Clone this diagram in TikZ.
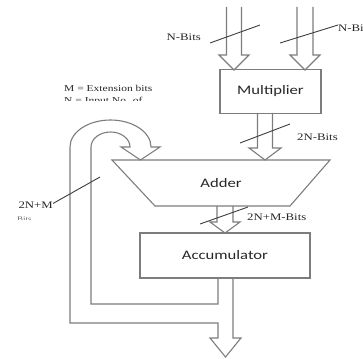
\documentclass[tikz,border=0pt]{standalone}
\usepackage{fontspec}
\setmainfont{Liberation Serif}
\newfontfamily\calfont{Carlito}
\definecolor{outl}{RGB}{125,125,125}
\definecolor{slsh}{RGB}{60,60,60}
\newcommand{\wide}[1]{\scalebox{1.28}[1]{#1}}
\newcommand{\blockdown}[6]{% x, ytop, yhead, ytip, shaft half, head half
  \draw[blk] (#1-#5,#2) -- (#1-#5,#3) -- (#1-#6,#3) -- (#1,#4) -- (#1+#6,#3) -- (#1+#5,#3) -- (#1+#5,#2);}
\begin{document}
\begin{tikzpicture}[x=1pt,y=-1pt,
  blk/.style={draw=outl,line width=1.1pt,line join=miter},
  boxst/.style={draw=outl,line width=1.1pt,minimum width=#1,inner sep=0pt},
  slash/.style={draw=slsh,line width=0.9pt},
  lab/.style={font=\fontsize{10}{11}\selectfont,text=black!85,inner sep=0pt},
  blab/.style={font=\calfont\fontsize{13}{14}\selectfont,text=black!85,inner sep=0pt}]
\useasboundingbox (0,0) rectangle (363,358);
\clip (0,0) rectangle (363,358);
% boxes
\node[boxst=101pt,minimum height=44pt] (mult) at (270.5,91.5) {};
\node[blab] (multt) at (mult.center) {\wide{Multiplier}};
\node[boxst=170pt,minimum height=45pt] (acc) at (225,255.5) {};
\node[blab] (acct) at (acc.center) {\wide{Accumulator}};
\draw[blk] (112,160) -- (330,160) -- (290,206) -- (155,206) -- cycle;
\node[blab] (adder) at (221,183) {\wide{Adder}};
% input arrows
\blockdown{234}{7}{55}{70}{7.5}{15}
\blockdown{305}{7}{55}{70}{8}{15}
% multiplier -> adder
\blockdown{265}{113}{148}{160}{7.5}{16}
% adder -> accumulator
\blockdown{225}{206}{222}{233}{8}{15}
% output and feedback
\draw[blk] (218,278) -- (218,304) -- (91,304) -- (91,147)
  arc[start angle=180,end angle=360,x radius=19.5,y radius=15]
  -- (121,147) -- (140.5,160) -- (160,147) -- (151,147)
  arc[start angle=0,end angle=-180,x radius=40.5,y radius=27]
  -- (70,323) -- (218,323) -- (218,338) -- (210,338) -- (225.5,357)
  -- (241,338) -- (233,338) -- (233,278);
% slashes and labels
\draw[slash] (210,43) -- (260,25);
\node[lab,anchor=east] (l1) at (201,37) {\wide{N-Bits}};
\draw[slash] (280,43) -- (338,25);
\node[lab,anchor=west] (l2) at (338,28) {\wide{N-Bits}};
\draw[slash] (240,143) -- (290,124);
\node[lab,anchor=west] (l3) at (297,137) {\wide{2N-Bits}};
\draw[slash] (200,224) -- (248,207);
\node[lab,anchor=west] (l4) at (247,217) {\wide{2N+M-Bits}};
\coordinate (fbp) at (100,177);
\node[lab,anchor=east] (l5) at (53,205) {\wide{2N+M}};
\draw[slash] (l5.north east) ++(0,2) -- (fbp);
\begin{scope}
\clip (10,212) rectangle (60,219.5);
\node[lab,anchor=west,font=\fontsize{7}{8}\selectfont,text=black!60] (l6) at (17,219) {\wide{Bits}};
\end{scope}
\node[lab,anchor=west,font=\fontsize{9}{10}\selectfont] (m1) at (64,88) {\wide{M = Extension bits}};
\begin{scope}
\clip (50,94) rectangle (200,100.5);
\node[lab,anchor=west,font=\fontsize{9}{10}\selectfont] (m2) at (64,101) {\wide{N = Input No. of}};
\end{scope}
\end{tikzpicture}
\end{document}
